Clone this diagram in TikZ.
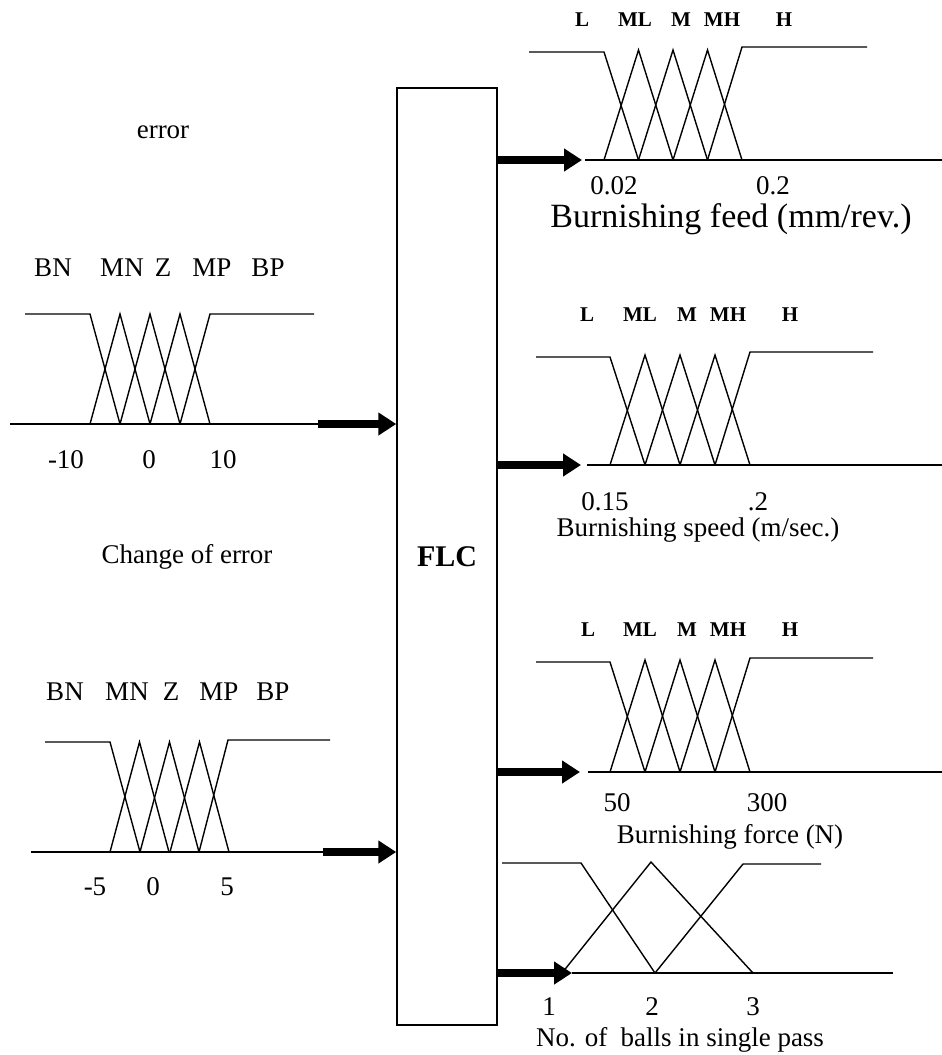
\documentclass[tikz,border=0pt]{standalone}
\usepackage{fontspec}
\setmainfont{Liberation Serif}
\usepackage{tikz}
\usetikzlibrary{arrows.meta, positioning, calc}
\tikzset{
  mfline/.style={line width=0.7pt},
  axisline/.style={line width=0.7pt},
  bigarrow/.style={-{Triangle[length=9pt,width=11pt]}, line width=4pt},
  lbl/.style={font=\fontsize{13.5}{16}\selectfont, inner sep=0pt},
  biglbl/.style={font=\fontsize{17}{20}\selectfont, inner sep=0pt},
  setlbl/.style={font=\bfseries\fontsize{10.5}{12}\selectfont, inner sep=0pt},
  ctrlbox/.style={draw, line width=0.75pt, inner sep=0pt,
    minimum width=50pt, minimum height=468.5pt,
    font=\bfseries\fontsize{15}{18}\selectfont}
}

\begin{document}
\begin{tikzpicture}[x=0.5pt, y=-0.5pt]
\useasboundingbox (0,0) rectangle (942,1055);

% controller
\node[ctrlbox] (flc) at (447,556.5) {FLC};

% input: error
\node[lbl] (errtitle) at (163,132) {error};
\foreach \t/\x in {BN/53, MN/122, Z/163, MP/212, BP/268}
  \node[lbl] (err-\t) at (\x,268) {\t};
\draw[axisline] (10,424) -- (318,424);
\draw[mfline] (25,314) -- (90,314) -- (120,424);
\foreach \b in {90,120,150}
  \draw[mfline] (\b,424) -- ({\b+30},314) -- ({\b+60},424);
\draw[mfline] (180,424) -- (210,314) -- (314,314);
\node[lbl] (errmin) at (66,460) {-10};
\node[lbl] (errzero) at (149,460) {0};
\node[lbl] (errmax) at (223,460) {10};
\coordinate (errin) at (318,424);
\draw[bigarrow] (errin) -- (errin -| flc.west);

% input: change of error
\node[lbl] (cetitle) at (187,557) {Change of error};
\foreach \t/\x in {BN/65, MN/127, Z/171, MP/219, BP/273}
  \node[lbl] (ce-\t) at (\x,692) {\t};
\draw[axisline] (31,852) -- (323,852);
\draw[mfline] (45,742) -- (110,742) -- (140,852);
\foreach \b in {110,140,170}
  \draw[mfline] (\b,852) -- ({\b+29.5},742) -- ({\b+59},852);
\draw[mfline] (199,852) -- (228,740) -- (330,740);
\node[lbl] (cemin) at (95,887) {-5};
\node[lbl] (cezero) at (153,887) {0};
\node[lbl] (cemax) at (227,887) {5};
\coordinate (cein) at (323,852);
\draw[bigarrow] (cein) -- (cein -| flc.west);

% output: feed
\foreach \t/\x in {L/582, ML/635, M/681, MH/722, H/784}
  \node[setlbl] (fd-\t) at (\x,20) {\t};
\draw[axisline] (585,160) -- (942,160);
\draw[mfline] (529,52) -- (604,52) -- (638.5,160);
\foreach \b in {604,638.5,673}
  \draw[mfline] (\b,160) -- ({\b+34.5},50) -- ({\b+69},160);
\draw[mfline] (707.5,160) -- (742,47) -- (867,47);
\node[lbl] (fdmin) at (614,186) {0.02};
\node[lbl] (fdmax) at (773,186) {0.2};
\node[biglbl] (fdtitle) at (731,219) {Burnishing feed (mm/rev.)};
\coordinate (fdout) at (582,160);
\draw[bigarrow] (fdout -| flc.east) -- (fdout);

% output: speed
\foreach \t/\x in {L/587, ML/640, M/687, MH/728, H/790}
  \node[setlbl] (sp-\t) at (\x,315) {\t};
\draw[axisline] (587,465) -- (942,465);
\draw[mfline] (536,357) -- (610,357) -- (645,465);
\foreach \b in {610,645,680}
  \draw[mfline] (\b,465) -- ({\b+35},355) -- ({\b+70},465);
\draw[mfline] (715,465) -- (750,352) -- (873,352);
\node[lbl] (spmin) at (605,502) {0.15};
\node[lbl] (spmax) at (758,502) {.2};
\node[lbl] (sptitle) at (698,530) {Burnishing speed (m/sec.)};
\coordinate (spout) at (581,465);
\draw[bigarrow] (spout -| flc.east) -- (spout);

% output: force
\foreach \t/\x in {L/588, ML/640, M/687, MH/728, H/790}
  \node[setlbl] (fc-\t) at (\x,630) {\t};
\draw[axisline] (588,772) -- (942,772);
\draw[mfline] (536,662) -- (610,662) -- (645,772);
\foreach \b in {610,645,680}
  \draw[mfline] (\b,772) -- ({\b+35},660) -- ({\b+70},772);
\draw[mfline] (715,772) -- (750,658) -- (873,658);
\node[lbl] (fcmin) at (617,803) {50};
\node[lbl] (fcmax) at (767,803) {300};
\node[lbl] (fctitle) at (730,837) {Burnishing force (N)};
\coordinate (fcout) at (580,772);
\draw[bigarrow] (fcout -| flc.east) -- (fcout);

% output: number of balls
\draw[axisline] (572,973) -- (893,973);
\draw[mfline] (502,863) -- (581,863) -- (655,973);
\draw[mfline] (562,973) -- (651,862) -- (753,973);
\draw[mfline] (655,973) -- (743,864) -- (821,864);
\node[lbl] (blone) at (549,1007) {1};
\node[lbl] (bltwo) at (652,1007) {2};
\node[lbl] (blthree) at (753,1007) {3};
\node[lbl] (bltitle) at (680,1040) {No. of\ \ balls in single pass};
\coordinate (blout) at (572,973);
\draw[bigarrow] (blout -| flc.east) -- (blout);

\end{tikzpicture}
\end{document}
